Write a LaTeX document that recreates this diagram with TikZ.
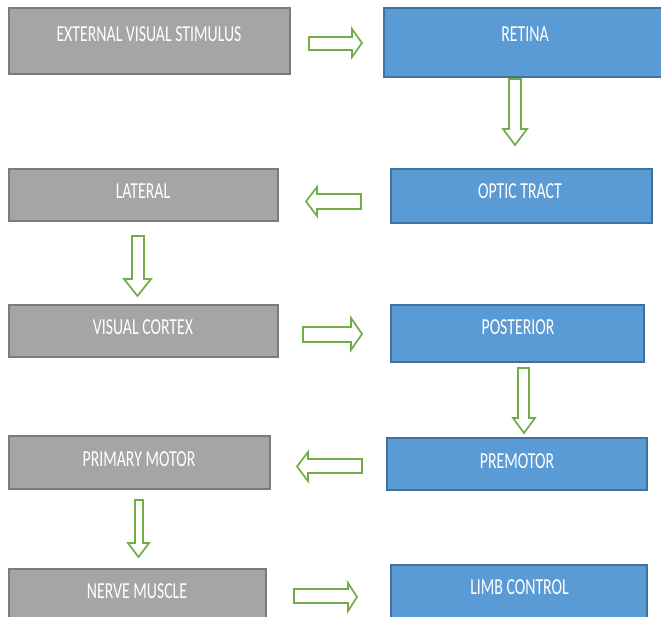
\documentclass[tikz,border=0pt]{standalone}
\usepackage{fontspec}
\setmainfont{Carlito}
\definecolor{gfill}{HTML}{A5A5A5}
\definecolor{gline}{HTML}{7B7B7B}
\definecolor{bfill}{HTML}{5B9BD5}
\definecolor{bline}{HTML}{41719C}
\definecolor{agreen}{HTML}{70AD47}
\newcommand{\boxtxt}[1]{\scalebox{1}[1.45]{#1}}
\begin{document}
\begin{tikzpicture}[x=1pt,y=-1pt,
  gbox/.style={fill=gfill,draw=gline,line width=1.3pt},
  bbox/.style={fill=bfill,draw=bline,line width=1.3pt},
  lbl/.style={anchor=base,inner sep=0pt,text=white,font=\fontsize{15.8}{18}\selectfont},
  barrow/.style={draw=agreen,fill=white,line width=1.7pt,line join=miter}]
\useasboundingbox (0,0) rectangle (661,616);
\clip (0,0) rectangle (661,616);
\fill[white] (0,0) rectangle (661,616);
% boxes
\node[gbox,inner sep=0pt,minimum width=281pt,minimum height=66pt] (ext) at (149.5,41) {};
\node[bbox,inner sep=0pt,minimum width=282pt,minimum height=69pt] (ret) at (525,42.5) {};
\node[bbox,inner sep=0pt,minimum width=261pt,minimum height=54pt] (opt) at (521.5,196) {};
\node[gbox,inner sep=0pt,minimum width=269pt,minimum height=52pt] (lat) at (143.5,195) {};
\node[gbox,inner sep=0pt,minimum width=269pt,minimum height=52pt] (vis) at (143.5,331) {};
\node[bbox,inner sep=0pt,minimum width=253pt,minimum height=57pt] (pos) at (517.5,333.5) {};
\node[bbox,inner sep=0pt,minimum width=260pt,minimum height=52pt] (pre) at (517,464) {};
\node[gbox,inner sep=0pt,minimum width=261pt,minimum height=53pt] (pri) at (139.5,462.5) {};
\node[gbox,inner sep=0pt,minimum width=257pt,minimum height=60pt] (ner) at (137.5,599) {};
\node[bbox,inner sep=0pt,minimum width=256pt,minimum height=64pt] (lim) at (519,597) {};
% labels
\node[lbl] (tExt) at (149,41) {\boxtxt{EXTERNAL VISUAL STIMULUS}};
\node[lbl] (tRet) at (525,41) {\boxtxt{RETINA}};
\node[lbl] (tOpt) at (520,198) {\boxtxt{OPTIC TRACT}};
\node[lbl] (tLat) at (143,198) {\boxtxt{LATERAL}};
\node[lbl] (tVis) at (143,334) {\boxtxt{VISUAL CORTEX}};
\node[lbl] (tPos) at (518,334) {\boxtxt{POSTERIOR}};
\node[lbl] (tPre) at (517,468) {\boxtxt{PREMOTOR}};
\node[lbl] (tPri) at (139,466) {\boxtxt{PRIMARY MOTOR}};
\node[lbl] (tNer) at (137,598) {\boxtxt{NERVE MUSCLE}};
\node[lbl] (tLim) at (519.5,594) {\boxtxt{LIMB CONTROL}};
% block arrows
% ext -> retina (right)
\draw[barrow] (309,37) -- (352,37) -- (352,29) -- (362,43) -- (352,57) -- (352,50) -- (309,50) -- cycle;
% retina -> optic (down)
\draw[barrow] (509,79) -- (521,79) -- (521,129) -- (527,129) -- (515,145) -- (503,129) -- (509,129) -- cycle;
% optic -> lateral (left)
\draw[barrow] (361,194) -- (317,194) -- (317,187) -- (306,201.5) -- (317,216) -- (317,209) -- (361,209) -- cycle;
% lateral -> visual (down)
\draw[barrow] (132,236) -- (144,236) -- (144,279) -- (151,279) -- (137.5,296) -- (124,279) -- (132,279) -- cycle;
% visual -> posterior (right)
\draw[barrow] (303,327) -- (351,327) -- (351,318) -- (362,334) -- (351,350) -- (351,342) -- (303,342) -- cycle;
% posterior -> premotor (down)
\draw[barrow] (518,368) -- (529,368) -- (529,418) -- (535,418) -- (524,433) -- (513,418) -- (518,418) -- cycle;
% premotor -> primary (left)
\draw[barrow] (362,459) -- (308,459) -- (308,452) -- (297,466.5) -- (308,481) -- (308,473) -- (362,473) -- cycle;
% primary -> nerve (down)
\draw[barrow] (135,500) -- (143,500) -- (143,543) -- (149,543) -- (138.5,557) -- (128,543) -- (135,543) -- cycle;
% nerve -> limb (right)
\draw[barrow] (294,589) -- (348,589) -- (348,583) -- (357,597) -- (348,611) -- (348,603) -- (294,603) -- cycle;
\end{tikzpicture}
\end{document}
